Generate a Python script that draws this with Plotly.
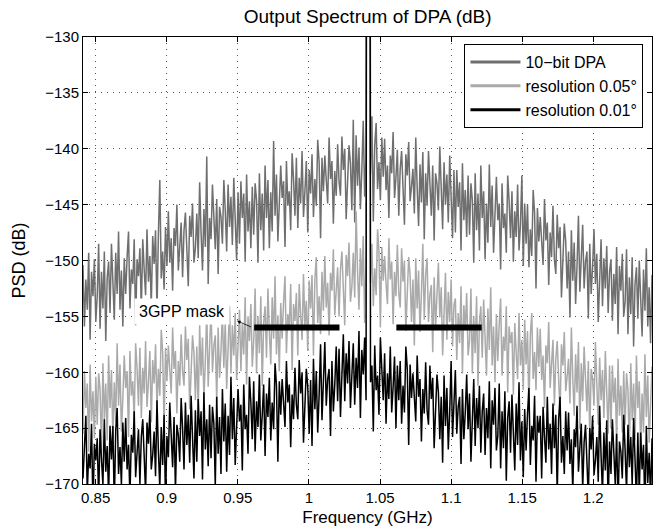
import numpy as np
import plotly.graph_objects as go

# ---------------- data ----------------
SERIES_NAMES = ["10\u2212bit DPA", "resolution 0.05\u00b0", "resolution 0.01\u00b0"]

F_LEFT_START, F_LEFT_END = 0.8411, 1.0402
F_RIGHT_START, F_RIGHT_END = 1.0433, 1.2413
CARRIER_F = [1.0406, 1.0429]
CARRIER_DB = [-100.0, -100.0]

DPA10_LEFT = [
    -150.4, -155.9, -151.7, -154.4, -149.3, -157.1, -151.0, -153.2, -149.9, -155.5,
    -153.2, -148.5, -156.1, -151.0, -154.3, -149.2, -157.2, -151.6, -150.1, -154.7,
    -148.5, -152.4, -155.3, -149.3, -153.0, -147.4, -154.4, -150.9, -155.9, -149.8,
    -153.0, -149.7, -147.4, -154.3, -150.8, -152.1, -148.1, -155.8, -149.9, -151.4,
    -148.9, -154.5, -148.1, -150.8, -153.1, -147.2, -151.9, -149.6, -154.1, -147.8,
    -150.3, -147.3, -154.5, -147.7, -142.8, -151.6, -149.2, -152.6, -147.0, -150.5,
    -145.6, -150.2, -148.0, -152.7, -147.1, -148.7, -145.0, -150.9, -149.1, -146.6,
    -151.5, -147.3, -145.7, -149.3, -152.3, -146.0, -147.9, -144.9, -150.2, -148.9,
    -145.8, -149.8, -143.0, -147.5, -150.9, -145.4, -148.8, -140.7, -152.1, -146.2,
    -148.1, -143.2, -146.6, -149.0, -144.5, -151.2, -145.2, -146.1, -148.5, -142.8,
    -145.5, -149.2, -143.2, -147.0, -144.3, -148.6, -142.6, -146.8, -150.0, -143.9,
    -148.5, -142.9, -146.2, -144.0, -150.1, -142.3, -147.4, -144.7, -148.9, -143.4,
    -147.7, -143.1, -144.6, -150.2, -142.2, -147.3, -144.0, -149.1, -141.5, -146.2,
    -142.8, -148.9, -143.9, -147.4, -139.3, -146.0, -142.3, -148.3, -145.4, -141.5,
    -144.4, -142.9, -148.8, -141.1, -145.1, -143.8, -147.3, -140.4, -142.7, -146.0,
    -140.8, -147.1, -142.6, -144.9, -140.2, -146.1, -143.8, -141.1, -147.5, -141.9,
    -144.0, -140.5, -146.1, -142.7, -145.1, -139.2, -141.2, -148.0, -140.8, -143.8,
    -140.6, -143.1, -144.9, -139.0, -142.7, -141.1, -146.7, -142.0, -144.2, -139.6,
    -142.9, -144.2, -138.9, -141.9, -140.0, -146.3, -143.3, -139.7, -141.3, -145.5,
    -137.4, -146.6, -138.8, -143.3, -139.9, -145.4, -142.0, -137.5, -144.3, -140.3,
]
DPA10_RIGHT = [
    -142.3, -137.1, -146.5, -139.7, -137.7, -143.6, -141.2, -144.6, -139.0, -142.5,
    -139.1, -143.7, -141.5, -146.2, -140.6, -142.2, -138.5, -144.4, -142.6, -140.1,
    -146.0, -141.8, -140.2, -143.8, -146.8, -140.5, -142.4, -139.4, -144.7, -143.4,
    -141.8, -145.8, -139.0, -143.5, -146.9, -141.4, -144.8, -140.3, -148.1, -142.2,
    -145.1, -140.2, -143.6, -146.0, -141.5, -148.2, -142.2, -143.1, -145.5, -139.8,
    -143.5, -147.2, -141.2, -145.0, -142.3, -146.6, -140.6, -144.8, -148.0, -141.9,
    -147.5, -141.9, -145.2, -143.0, -149.1, -141.3, -146.4, -143.7, -147.9, -142.4,
    -147.7, -143.1, -144.6, -150.2, -142.2, -147.3, -144.0, -149.1, -141.5, -146.2,
    -143.8, -149.9, -144.9, -148.4, -141.4, -147.0, -143.3, -149.3, -146.4, -142.5,
    -146.4, -144.9, -150.8, -143.1, -147.1, -145.8, -149.3, -142.4, -144.7, -148.0,
    -143.8, -150.1, -145.6, -147.9, -143.2, -149.1, -146.8, -142.4, -150.5, -144.9,
    -148.5, -145.0, -150.6, -147.2, -149.6, -143.7, -145.7, -152.5, -145.3, -148.3,
    -146.1, -148.6, -150.4, -144.5, -148.2, -146.6, -152.2, -147.5, -149.7, -145.1,
    -149.9, -151.2, -145.9, -148.9, -147.0, -153.3, -150.3, -146.7, -148.3, -152.5,
    -149.2, -155.1, -147.3, -151.8, -148.4, -153.9, -150.5, -146.0, -152.8, -148.8,
    -146.8, -152.5, -150.1, -149.2, -155.2, -148.5, -153.0, -150.6, -147.2, -152.1,
    -149.4, -155.5, -152.3, -148.1, -154.1, -149.8, -152.5, -148.7, -154.7, -151.0,
    -149.9, -155.4, -151.2, -153.9, -148.8, -156.6, -150.5, -152.7, -149.4, -155.0,
    -153.7, -149.0, -156.6, -151.5, -154.8, -149.7, -157.7, -152.1, -150.6, -155.2,
    -150.0, -153.9, -156.8, -150.8, -154.5, -148.9, -155.9, -152.4, -157.4, -151.3,
]
RES005_LEFT = [
    -165.5, -159.9, -163.2, -161.0, -167.1, -159.3, -164.4, -161.7, -165.9, -160.4,
    -164.7, -160.1, -161.6, -167.2, -159.2, -164.3, -161.0, -166.1, -158.5, -163.2,
    -159.8, -165.9, -160.9, -164.4, -157.4, -163.0, -159.3, -165.3, -162.4, -158.5,
    -161.4, -159.9, -165.8, -158.1, -162.1, -160.8, -164.3, -157.4, -159.7, -163.0,
    -157.8, -164.1, -159.6, -161.9, -157.2, -163.1, -160.8, -158.1, -164.5, -158.9,
    -161.0, -157.5, -163.1, -159.7, -162.1, -156.2, -158.2, -165.0, -157.8, -160.8,
    -157.6, -160.1, -161.9, -156.0, -159.7, -158.1, -163.7, -159.0, -161.2, -156.6,
    -159.9, -161.2, -155.9, -158.9, -157.0, -163.3, -160.3, -156.7, -158.3, -162.5,
    -157.7, -163.6, -155.8, -160.3, -156.9, -162.4, -159.0, -154.5, -161.3, -157.3,
    -154.3, -160.0, -157.6, -156.7, -162.7, -156.0, -160.5, -158.1, -154.7, -159.6,
    -155.4, -161.5, -158.3, -154.1, -160.1, -155.8, -158.5, -154.7, -160.7, -157.0,
    -154.4, -159.9, -155.7, -158.4, -153.3, -161.1, -155.0, -157.2, -153.9, -159.5,
    -157.2, -152.5, -160.1, -155.0, -158.3, -153.2, -161.2, -155.6, -154.1, -158.7,
    -152.5, -156.4, -159.3, -153.3, -157.0, -151.4, -158.4, -154.9, -159.9, -153.8,
    -157.0, -153.7, -151.4, -158.3, -154.8, -156.1, -152.1, -159.8, -153.9, -155.4,
    -152.9, -158.5, -152.1, -154.8, -157.1, -151.2, -155.9, -153.6, -158.1, -151.8,
    -154.3, -151.3, -158.5, -151.7, -149.7, -155.6, -153.2, -156.6, -151.0, -154.5,
    -149.6, -154.2, -152.0, -156.7, -151.1, -152.7, -149.0, -154.9, -153.1, -150.6,
    -155.0, -150.8, -149.2, -152.8, -155.8, -149.5, -151.4, -148.4, -153.7, -152.4,
    -149.3, -153.3, -145.6, -151.0, -154.4, -148.9, -152.3, -147.8, -155.6, -149.7,
]
RES005_RIGHT = [
    -152.0, -148.5, -154.1, -150.7, -153.1, -147.2, -149.2, -156.0, -148.8, -151.8,
    -149.6, -152.1, -153.9, -148.0, -151.7, -150.1, -155.7, -151.0, -153.2, -148.6,
    -152.9, -154.2, -148.9, -151.9, -150.0, -156.3, -153.3, -149.7, -151.3, -155.5,
    -151.7, -157.6, -149.8, -154.3, -150.9, -156.4, -153.0, -148.5, -155.3, -151.3,
    -149.8, -155.5, -153.1, -152.2, -158.2, -151.5, -156.0, -153.6, -150.2, -155.1,
    -152.4, -158.5, -155.3, -151.1, -157.1, -152.8, -155.5, -151.7, -157.7, -154.0,
    -153.4, -158.9, -154.7, -157.4, -152.3, -160.1, -154.0, -156.2, -152.9, -158.5,
    -157.2, -152.5, -160.1, -155.0, -158.3, -153.2, -161.2, -155.6, -154.1, -158.7,
    -153.5, -157.4, -160.3, -154.3, -158.0, -152.4, -159.4, -155.9, -160.9, -154.8,
    -159.0, -155.7, -153.4, -160.3, -156.8, -158.1, -154.1, -161.8, -155.9, -157.4,
    -156.4, -162.0, -155.6, -158.3, -160.6, -154.7, -159.4, -157.1, -161.6, -155.3,
    -159.3, -156.3, -163.5, -156.7, -154.7, -160.6, -158.2, -161.6, -156.0, -159.5,
    -156.1, -160.7, -158.5, -163.2, -157.6, -159.2, -155.5, -161.4, -159.6, -157.1,
    -163.0, -158.8, -157.2, -160.8, -163.8, -157.5, -159.4, -156.4, -161.7, -160.4,
    -158.8, -162.8, -156.0, -160.5, -163.9, -158.4, -161.8, -157.3, -165.1, -159.2,
    -162.6, -157.7, -161.1, -163.5, -159.0, -165.7, -159.7, -160.6, -163.0, -157.3,
    -161.0, -164.7, -158.7, -162.5, -159.8, -164.1, -158.1, -162.3, -165.5, -159.4,
    -165.0, -159.4, -162.7, -160.5, -166.6, -158.8, -163.9, -161.2, -165.4, -159.9,
    -164.7, -160.1, -161.6, -167.2, -159.2, -164.3, -161.0, -166.1, -158.5, -163.2,
    -160.8, -166.9, -161.9, -165.4, -158.4, -164.0, -160.3, -166.3, -163.4, -159.5,
]
RES001_LEFT = [
    -169.5, -166.2, -163.9, -170.8, -167.3, -168.6, -164.6, -172.3, -166.4, -167.9,
    -165.9, -171.5, -165.1, -167.8, -170.1, -164.2, -168.9, -166.6, -171.1, -164.8,
    -167.8, -164.8, -172.0, -165.2, -163.2, -169.1, -166.7, -170.1, -164.5, -168.0,
    -164.1, -168.7, -166.5, -171.2, -165.6, -167.2, -163.5, -169.4, -167.6, -165.1,
    -170.0, -165.8, -164.2, -167.8, -170.8, -164.5, -166.4, -163.4, -168.7, -167.4,
    -165.3, -169.3, -162.5, -167.0, -170.4, -164.9, -168.3, -163.8, -171.6, -165.7,
    -167.6, -162.7, -166.1, -168.5, -164.0, -170.7, -164.7, -165.6, -168.0, -162.3,
    -165.0, -168.7, -162.7, -166.5, -163.8, -168.1, -162.1, -166.3, -169.5, -163.4,
    -168.0, -162.4, -165.7, -163.5, -169.6, -161.8, -166.9, -164.2, -168.4, -162.9,
    -167.7, -163.1, -164.6, -170.2, -162.2, -167.3, -164.0, -169.1, -161.5, -166.2,
    -162.8, -168.9, -163.9, -167.4, -160.4, -166.0, -162.3, -168.3, -165.4, -161.5,
    -164.4, -162.9, -168.8, -161.1, -165.1, -163.8, -167.3, -160.4, -162.7, -166.0,
    -160.8, -167.1, -162.6, -164.9, -160.2, -166.1, -163.8, -161.1, -167.5, -161.9,
    -164.0, -160.5, -166.1, -162.7, -165.1, -159.2, -161.2, -168.0, -160.8, -163.8,
    -160.6, -163.1, -164.9, -159.0, -162.7, -161.1, -166.7, -162.0, -164.2, -159.6,
    -162.9, -164.2, -158.9, -161.9, -160.0, -166.3, -163.3, -159.7, -161.3, -165.5,
    -160.7, -166.6, -158.8, -163.3, -159.9, -165.4, -162.0, -157.5, -164.3, -160.3,
    -157.3, -163.0, -160.6, -159.7, -165.7, -159.0, -163.5, -161.1, -157.7, -162.6,
    -157.9, -164.0, -160.8, -156.6, -162.6, -158.3, -161.0, -157.2, -163.2, -159.5,
    -157.4, -162.9, -158.7, -161.4, -156.3, -164.1, -158.0, -160.2, -156.9, -162.5,
]
RES001_RIGHT = [
    -160.9, -159.4, -165.3, -157.6, -161.6, -160.3, -163.8, -156.9, -159.2, -162.5,
    -158.3, -164.6, -160.1, -162.4, -157.7, -163.6, -161.3, -158.6, -165.0, -159.4,
    -162.5, -159.0, -164.6, -161.2, -163.6, -157.7, -159.7, -166.5, -159.3, -162.3,
    -160.1, -162.6, -164.4, -158.5, -162.2, -160.6, -166.2, -161.5, -163.7, -159.1,
    -163.4, -164.7, -159.4, -162.4, -160.5, -166.8, -163.8, -160.2, -161.8, -166.0,
    -162.2, -168.1, -160.3, -164.8, -161.4, -166.9, -163.5, -159.0, -165.8, -161.8,
    -159.8, -165.5, -163.1, -162.2, -168.2, -161.5, -166.0, -163.6, -160.2, -165.1,
    -161.9, -168.0, -164.8, -160.6, -166.6, -162.3, -165.0, -161.2, -167.2, -163.5,
    -161.9, -167.4, -163.2, -165.9, -160.8, -168.6, -162.5, -164.7, -161.4, -167.0,
    -165.7, -161.0, -168.6, -163.5, -166.8, -161.7, -169.7, -164.1, -162.6, -167.2,
    -162.0, -165.9, -168.8, -162.8, -166.5, -160.9, -167.9, -164.4, -169.4, -163.3,
    -167.0, -163.7, -161.4, -168.3, -164.8, -166.1, -162.1, -169.8, -163.9, -165.4,
    -163.9, -169.5, -163.1, -165.8, -168.1, -162.2, -166.9, -164.6, -169.1, -162.8,
    -166.8, -163.8, -171.0, -164.2, -162.2, -168.1, -165.7, -169.1, -163.5, -167.0,
    -163.6, -168.2, -166.0, -170.7, -165.1, -166.7, -163.0, -168.9, -167.1, -164.6,
    -170.5, -166.3, -164.7, -168.3, -171.3, -165.0, -166.9, -163.9, -169.2, -167.9,
    -165.8, -169.8, -163.0, -167.5, -170.9, -165.4, -168.8, -164.3, -172.1, -166.2,
    -169.1, -164.2, -167.6, -170.0, -165.5, -172.2, -166.2, -167.1, -169.5, -163.8,
    -167.0, -170.7, -164.7, -168.5, -165.8, -170.1, -164.1, -168.3, -171.5, -165.4,
    -171.0, -165.4, -168.7, -166.5, -172.6, -164.8, -169.9, -167.2, -171.4, -165.9,
]

MASK_LEVEL = -156.0
MASK_LEFT_F = [0.9615, 1.0215]
MASK_RIGHT_F = [1.0615, 1.1215]

X_TICKS = [0.85, 0.9, 0.95, 1.0, 1.05, 1.1, 1.15, 1.2]
X_TICK_TEXT = ["0.85", "0.9", "0.95", "1", "1.05", "1.1", "1.15", "1.2"]
Y_TICKS = [-170, -165, -160, -155, -150, -145, -140, -135, -130]

COLORS = ["#6f6f6f", "#aaaaaa", "#000000"]

# ---------------- build figure ----------------
f_left = np.linspace(F_LEFT_START, F_LEFT_END, len(DPA10_LEFT))
f_right = np.linspace(F_RIGHT_START, F_RIGHT_END, len(DPA10_RIGHT))
freq = np.concatenate([f_left, CARRIER_F, f_right])

series = [
    DPA10_LEFT + CARRIER_DB + DPA10_RIGHT,
    RES005_LEFT + CARRIER_DB + RES005_RIGHT,
    RES001_LEFT + CARRIER_DB + RES001_RIGHT,
]

FONT = "Liberation Sans, Arial, sans-serif"

fig = go.Figure()
for name, vals, col in zip(SERIES_NAMES, series, COLORS):
    fig.add_trace(go.Scatter(x=freq, y=vals, mode="lines", name=name,
                             line=dict(color=col, width=1.5), showlegend=False,
                             hoverinfo="skip"))

for mf in (MASK_LEFT_F, MASK_RIGHT_F):
    fig.add_trace(go.Scatter(x=mf, y=[MASK_LEVEL, MASK_LEVEL], mode="lines",
                             line=dict(color="black", width=6), showlegend=False))

# legend entries (thicker sample lines, like the reference legend)
for name, col in zip(SERIES_NAMES, COLORS):
    fig.add_trace(go.Scatter(x=[None], y=[None], mode="lines", name=name,
                             line=dict(color=col, width=3), showlegend=True))

fig.add_annotation(x=0.9494, y=-155.4, ax=0.9603, ay=-156.0, xref="x", yref="y",
                   axref="x", ayref="y", text="", showarrow=True, arrowhead=2,
                   arrowsize=0.9, arrowwidth=0.8, arrowcolor="black")
fig.add_annotation(x=0.9107, y=-154.57, xref="x", yref="y", text="3GPP mask",
                   showarrow=False, bgcolor="white", borderpad=4,
                   font=dict(family=FONT, size=16, color="black"))

fig.update_layout(
    width=657, height=531,
    margin=dict(l=83, r=5, t=37, b=47),
    paper_bgcolor="white", plot_bgcolor="white",
    font=dict(family=FONT, size=15, color="black"),
    title=dict(text="Output Spectrum of DPA (dB)", x=0.5596, xanchor="center",
               y=0.97, yanchor="middle", font=dict(family=FONT, size=19)),
    legend=dict(x=0.985, xanchor="right", y=0.984, yanchor="top",
                bordercolor="black", borderwidth=1, bgcolor="white",
                itemwidth=50, font=dict(family=FONT, size=16)),
    showlegend=True,
)
fig.update_xaxes(range=[0.8411, 1.2413], tickvals=X_TICKS, ticktext=X_TICK_TEXT,
                 showline=True, linecolor="black", linewidth=1, mirror="ticks",
                 ticks="inside", ticklen=5, tickcolor="black",
                 showgrid=True, gridcolor="#555555", gridwidth=1, griddash="1px,5px",
                 zeroline=False, tickfont=dict(size=15),
                 title=dict(text="Frequency (GHz)", font=dict(size=17), standoff=6))
fig.update_yaxes(range=[-170, -130], tickvals=Y_TICKS,
                 showline=True, linecolor="black", linewidth=1, mirror="ticks",
                 ticks="inside", ticklen=5, tickcolor="black",
                 showgrid=True, gridcolor="#555555", gridwidth=1, griddash="1px,5px",
                 zeroline=False, tickfont=dict(size=15),
                 title=dict(text="PSD (dB)", font=dict(size=18), standoff=14))

fig.write_html("out.html")
